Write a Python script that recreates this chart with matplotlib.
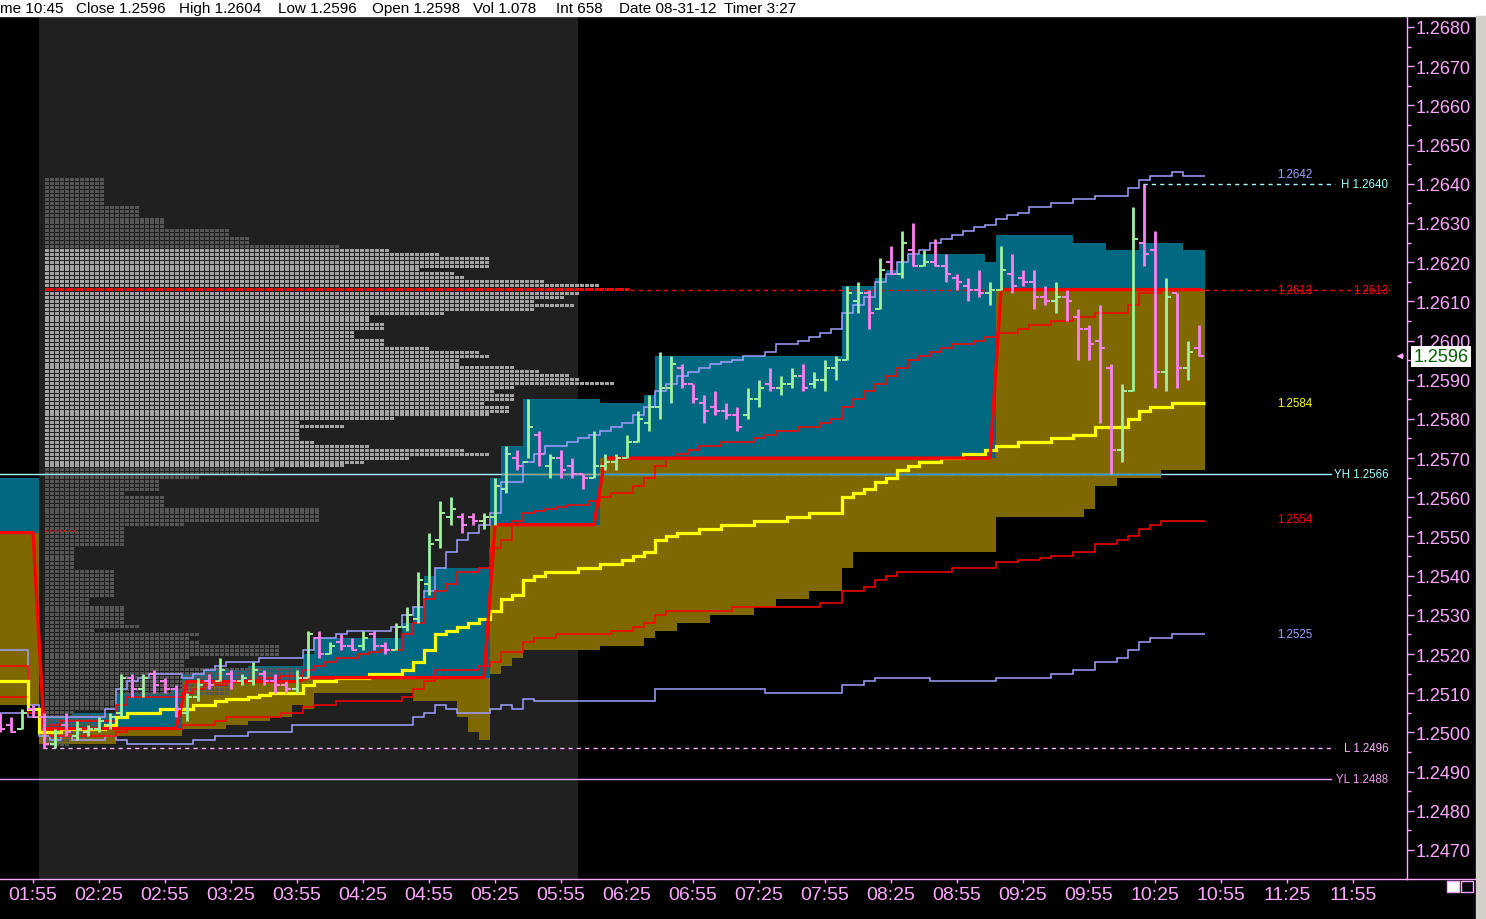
import numpy as np
import matplotlib.pyplot as plt
import matplotlib.transforms as mtransforms
from matplotlib.patches import Rectangle
from matplotlib.lines import Line2D

plt.rcParams['font.family'] = ['Liberation Sans', 'DejaVu Sans']

# ---------------- data ----------------
# 5 minute bars, time = minutes after midnight (01:40 ... 10:45)
bar_time = np.arange(100, 646, 5)

bar_open = [
    1.2504, 1.2502, 1.2501, 1.2506, 1.2504, 1.2497, 1.2502, 1.2499, 1.2500, 1.2501,
    1.2502, 1.2505, 1.2514, 1.2511, 1.2515, 1.2513, 1.2511, 1.2505, 1.2509, 1.2513,
    1.2513, 1.2515, 1.2513, 1.2513, 1.2515, 1.2513, 1.2512, 1.2511, 1.2514, 1.2524,
    1.2520, 1.2523, 1.2522, 1.2522, 1.2525, 1.2522, 1.2521, 1.2527, 1.2529, 1.2538,
    1.2549, 1.2555, 1.2555, 1.2555, 1.2554, 1.2555, 1.2562, 1.2570, 1.2569, 1.2576,
    1.2568, 1.2570, 1.2568, 1.2566, 1.2565, 1.2568, 1.2569, 1.2570, 1.2574, 1.2579,
    1.2583, 1.2588, 1.2593, 1.2589, 1.2584, 1.2583, 1.2582, 1.2581, 1.2581, 1.2585,
    1.2589, 1.2588, 1.2589, 1.2591, 1.2589, 1.2590, 1.2593, 1.2595, 1.2610, 1.2612,
    1.2608, 1.2620, 1.2617, 1.2623, 1.2619, 1.2620, 1.2619, 1.2616, 1.2614, 1.2613,
    1.2612, 1.2613, 1.2617, 1.2616, 1.2615, 1.2611, 1.2610, 1.2611, 1.2606, 1.2603,
    1.2600, 1.2593, 1.2572, 1.2587, 1.2625, 1.2623, 1.2592, 1.2612, 1.2593, 1.2598]
bar_high = [
    1.2505, 1.2504, 1.2506, 1.2507, 1.2505, 1.2501, 1.2505, 1.2503, 1.2502, 1.2504,
    1.2505, 1.2515, 1.2515, 1.2515, 1.2516, 1.2514, 1.2512, 1.2510, 1.2514, 1.2515,
    1.2519, 1.2516, 1.2515, 1.2518, 1.2516, 1.2515, 1.2513, 1.2516, 1.2526, 1.2526,
    1.2523, 1.2525, 1.2524, 1.2526, 1.2526, 1.2523, 1.2528, 1.2532, 1.2541, 1.2551,
    1.2559, 1.2560, 1.2556, 1.2556, 1.2556, 1.2565, 1.2573, 1.2572, 1.2585, 1.2577,
    1.2571, 1.2572, 1.2570, 1.2566, 1.2577, 1.2571, 1.2571, 1.2576, 1.2582, 1.2586,
    1.2597, 1.2596, 1.2594, 1.2589, 1.2586, 1.2587, 1.2584, 1.2583, 1.2588, 1.2590,
    1.2593, 1.2591, 1.2593, 1.2594, 1.2592, 1.2595, 1.2596, 1.2614, 1.2615, 1.2613,
    1.2621, 1.2624, 1.2628, 1.2630, 1.2623, 1.2626, 1.2622, 1.2617, 1.2616, 1.2618,
    1.2615, 1.2624, 1.2622, 1.2618, 1.2618, 1.2614, 1.2615, 1.2613, 1.2608, 1.2604,
    1.2609, 1.2594, 1.2589, 1.2634, 1.2640, 1.2628, 1.2616, 1.2612, 1.2600, 1.2604]
bar_low = [
    1.2500, 1.2500, 1.2501, 1.2504, 1.2496, 1.2496, 1.2499, 1.2498, 1.2499, 1.2500,
    1.2501, 1.2504, 1.2509, 1.2509, 1.2510, 1.2510, 1.2504, 1.2503, 1.2508, 1.2511,
    1.2513, 1.2511, 1.2512, 1.2512, 1.2512, 1.2510, 1.2510, 1.2510, 1.2514, 1.2519,
    1.2520, 1.2521, 1.2521, 1.2521, 1.2521, 1.2520, 1.2521, 1.2526, 1.2528, 1.2535,
    1.2547, 1.2553, 1.2551, 1.2553, 1.2552, 1.2553, 1.2561, 1.2567, 1.2570, 1.2568,
    1.2565, 1.2565, 1.2565, 1.2562, 1.2565, 1.2567, 1.2567, 1.2570, 1.2574, 1.2577,
    1.2580, 1.2584, 1.2588, 1.2584, 1.2579, 1.2581, 1.2580, 1.2577, 1.2580, 1.2583,
    1.2587, 1.2586, 1.2588, 1.2587, 1.2588, 1.2587, 1.2590, 1.2595, 1.2607, 1.2603,
    1.2608, 1.2617, 1.2616, 1.2619, 1.2619, 1.2619, 1.2615, 1.2613, 1.2610, 1.2611,
    1.2609, 1.2613, 1.2612, 1.2614, 1.2608, 1.2609, 1.2607, 1.2605, 1.2595, 1.2595,
    1.2579, 1.2566, 1.2569, 1.2587, 1.2619, 1.2588, 1.2587, 1.2588, 1.2590, 1.2596]
bar_close = [
    1.2501, 1.2500, 1.2505, 1.2504, 1.2497, 1.2500, 1.2500, 1.2501, 1.2501, 1.2503,
    1.2504, 1.2514, 1.2511, 1.2514, 1.2512, 1.2511, 1.2506, 1.2509, 1.2512, 1.2512,
    1.2516, 1.2513, 1.2514, 1.2516, 1.2513, 1.2512, 1.2511, 1.2514, 1.2525, 1.2520,
    1.2522, 1.2522, 1.2521, 1.2524, 1.2522, 1.2521, 1.2527, 1.2530, 1.2539, 1.2548,
    1.2556, 1.2557, 1.2553, 1.2554, 1.2555, 1.2563, 1.2571, 1.2568, 1.2578, 1.2571,
    1.2570, 1.2567, 1.2566, 1.2565, 1.2568, 1.2569, 1.2570, 1.2574, 1.2580, 1.2583,
    1.2588, 1.2594, 1.2589, 1.2585, 1.2582, 1.2582, 1.2581, 1.2578, 1.2585, 1.2588,
    1.2588, 1.2589, 1.2591, 1.2588, 1.2590, 1.2593, 1.2595, 1.2612, 1.2612, 1.2607,
    1.2618, 1.2617, 1.2625, 1.2619, 1.2620, 1.2619, 1.2617, 1.2615, 1.2613, 1.2612,
    1.2613, 1.2618, 1.2614, 1.2615, 1.2611, 1.2610, 1.2611, 1.2610, 1.2603, 1.2599,
    1.2598, 1.2572, 1.2587, 1.2626, 1.2622, 1.2592, 1.2611, 1.2593, 1.2597, 1.2596]

# developing value area (VAH / POC / VAL)
vah = [
    1.2565, 1.2565, 1.2565, 1.2565, 1.2504, 1.2504, 1.2504, 1.2505, 1.2505, 1.2505,
    1.2505, 1.2510, 1.2510, 1.2510, 1.2510, 1.2510, 1.2511, 1.2515, 1.2515, 1.2516,
    1.2516, 1.2516, 1.2516, 1.2517, 1.2517, 1.2517, 1.2517, 1.2517, 1.2520, 1.2524,
    1.2524, 1.2524, 1.2524, 1.2524, 1.2524, 1.2524, 1.2524, 1.2528, 1.2532, 1.2540,
    1.2542, 1.2542, 1.2542, 1.2542, 1.2542, 1.2565, 1.2573, 1.2573, 1.2585, 1.2585,
    1.2585, 1.2585, 1.2585, 1.2585, 1.2585, 1.2584, 1.2584, 1.2584, 1.2584, 1.2586,
    1.2596, 1.2596, 1.2596, 1.2596, 1.2596, 1.2596, 1.2596, 1.2596, 1.2596, 1.2596,
    1.2596, 1.2596, 1.2596, 1.2596, 1.2596, 1.2596, 1.2596, 1.2614, 1.2614, 1.2614,
    1.2616, 1.2618, 1.2620, 1.2622, 1.2622, 1.2622, 1.2622, 1.2622, 1.2622, 1.2622,
    1.2620, 1.2627, 1.2627, 1.2627, 1.2627, 1.2627, 1.2627, 1.2627, 1.2625, 1.2625,
    1.2625, 1.2623, 1.2623, 1.2623, 1.2625, 1.2625, 1.2625, 1.2625, 1.2623, 1.2623]
poc_dev = [
    1.2551, 1.2551, 1.2551, 1.2551, 1.2501, 1.2501, 1.2501, 1.2501, 1.2501, 1.2501,
    1.2501, 1.2501, 1.2501, 1.2501, 1.2501, 1.2501, 1.2501, 1.2513, 1.2513, 1.2513,
    1.2513, 1.2513, 1.2513, 1.2513, 1.2513, 1.2513, 1.2513, 1.2513, 1.2514, 1.2514,
    1.2514, 1.2514, 1.2514, 1.2514, 1.2514, 1.2514, 1.2514, 1.2514, 1.2514, 1.2514,
    1.2514, 1.2514, 1.2514, 1.2514, 1.2514, 1.2553, 1.2553, 1.2553, 1.2553, 1.2553,
    1.2553, 1.2553, 1.2553, 1.2553, 1.2553, 1.2570, 1.2570, 1.2570, 1.2570, 1.2570,
    1.2570, 1.2570, 1.2570, 1.2570, 1.2570, 1.2570, 1.2570, 1.2570, 1.2570, 1.2570,
    1.2570, 1.2570, 1.2570, 1.2570, 1.2570, 1.2570, 1.2570, 1.2570, 1.2570, 1.2570,
    1.2570, 1.2570, 1.2570, 1.2570, 1.2570, 1.2570, 1.2570, 1.2570, 1.2570, 1.2570,
    1.2570, 1.2613, 1.2613, 1.2613, 1.2613, 1.2613, 1.2613, 1.2613, 1.2613, 1.2613,
    1.2613, 1.2613, 1.2613, 1.2613, 1.2613, 1.2613, 1.2613, 1.2613, 1.2613, 1.2613]
val = [
    1.2507, 1.2507, 1.2507, 1.2507, 1.2497, 1.2497, 1.2497, 1.2497, 1.2497, 1.2497,
    1.2497, 1.2499, 1.2499, 1.2499, 1.2499, 1.2499, 1.2499, 1.2501, 1.2501, 1.2501,
    1.2501, 1.2502, 1.2502, 1.2503, 1.2503, 1.2504, 1.2504, 1.2507, 1.2506, 1.2510,
    1.2510, 1.2510, 1.2510, 1.2510, 1.2510, 1.2510, 1.2510, 1.2510, 1.2508, 1.2508,
    1.2508, 1.2508, 1.2504, 1.2500, 1.2498, 1.2515, 1.2517, 1.2519, 1.2521, 1.2521,
    1.2521, 1.2521, 1.2521, 1.2521, 1.2521, 1.2522, 1.2522, 1.2522, 1.2522, 1.2524,
    1.2526, 1.2526, 1.2528, 1.2528, 1.2528, 1.2530, 1.2530, 1.2530, 1.2530, 1.2532,
    1.2532, 1.2534, 1.2534, 1.2534, 1.2536, 1.2536, 1.2536, 1.2542, 1.2546, 1.2546,
    1.2546, 1.2546, 1.2546, 1.2546, 1.2546, 1.2546, 1.2546, 1.2546, 1.2546, 1.2546,
    1.2546, 1.2555, 1.2555, 1.2555, 1.2555, 1.2555, 1.2555, 1.2555, 1.2555, 1.2557,
    1.2563, 1.2563, 1.2565, 1.2565, 1.2565, 1.2565, 1.2567, 1.2567, 1.2567, 1.2567]

# VWAP and deviation bands
vwap = [
    1.2513, 1.2513, 1.2513, 1.2506, 1.2500, 1.2500, 1.2501, 1.2501, 1.2501, 1.2501,
    1.2502, 1.2504, 1.2505, 1.2505, 1.2505, 1.2506, 1.2506, 1.2506, 1.2507, 1.2507,
    1.2508, 1.25085, 1.25085, 1.2509, 1.25095, 1.2510, 1.2510, 1.2510, 1.2512, 1.2513,
    1.2513, 1.2514, 1.2514, 1.2514, 1.2515, 1.2515, 1.2515, 1.2516, 1.2518, 1.2521,
    1.2525, 1.2526, 1.2527, 1.2528, 1.2529, 1.2531, 1.2534, 1.2535, 1.2539, 1.2540,
    1.2541, 1.2541, 1.2541, 1.2542, 1.2542, 1.2543, 1.2543, 1.2544, 1.2545, 1.2546,
    1.2549, 1.2550, 1.2551, 1.2551, 1.2552, 1.2552, 1.2553, 1.2553, 1.2553, 1.2554,
    1.2554, 1.2554, 1.2555, 1.2555, 1.2556, 1.2556, 1.2556, 1.2560, 1.2561, 1.2562,
    1.2564, 1.2565, 1.2567, 1.2568, 1.2569, 1.2569, 1.2570, 1.2570, 1.2571, 1.2571,
    1.2572, 1.2573, 1.2573, 1.2574, 1.2574, 1.2574, 1.2575, 1.2575, 1.2576, 1.2576,
    1.2578, 1.2578, 1.2578, 1.2580, 1.2582, 1.2583, 1.2583, 1.2584, 1.2584, 1.2584]
sd1_up = [
    1.2517, 1.2517, 1.2517, 1.2506, 1.2500, 1.2502, 1.2503, 1.2503, 1.2503, 1.2503,
    1.2503, 1.2507, 1.2509, 1.2509, 1.2509, 1.2509, 1.2509, 1.2510, 1.2511, 1.2512,
    1.2512, 1.2513, 1.2513, 1.25135, 1.2514, 1.2514, 1.25145, 1.25145, 1.2516, 1.2517,
    1.2518, 1.2519, 1.2519, 1.2520, 1.25205, 1.2521, 1.2521, 1.2525, 1.2528, 1.2534,
    1.2536, 1.2538, 1.2541, 1.2541, 1.2542, 1.2547, 1.2549, 1.2554, 1.2556, 1.25565,
    1.2557, 1.25575, 1.2558, 1.2558, 1.2559, 1.2560, 1.2561, 1.2561, 1.2563, 1.2565,
    1.2568, 1.2570, 1.2571, 1.2572, 1.2573, 1.2573, 1.2574, 1.2574, 1.2574, 1.2575,
    1.2576, 1.2577, 1.2577, 1.2578, 1.2578, 1.2579, 1.2580, 1.2583, 1.2585, 1.2587,
    1.2589, 1.2591, 1.2593, 1.2595, 1.2596, 1.2597, 1.2598, 1.2599, 1.2599, 1.2600,
    1.2601, 1.2602, 1.2602, 1.2603, 1.2604, 1.2604, 1.2605, 1.2605, 1.2606, 1.2606,
    1.2607, 1.2607, 1.2607, 1.2609, 1.2612, 1.2612, 1.2613, 1.2613, 1.2613, 1.2613]
sd1_dn = [
    1.2509, 1.2509, 1.2509, 1.2505, 1.2500, 1.2499, 1.2499, 1.2499, 1.2499, 1.2499,
    1.2499, 1.2500, 1.2501, 1.2501, 1.2501, 1.2501, 1.2501, 1.2502, 1.2502, 1.2502,
    1.2503, 1.2504, 1.2504, 1.2504, 1.2504, 1.2504, 1.2505, 1.2505, 1.25065, 1.2507,
    1.2507, 1.2508, 1.2508, 1.2508, 1.2508, 1.2508, 1.2508, 1.2509, 1.2511, 1.2513,
    1.2516, 1.2516, 1.2516, 1.2516, 1.2517, 1.2518, 1.25205, 1.25205, 1.2523, 1.2524,
    1.2524, 1.2525, 1.2525, 1.2525, 1.2525, 1.2525, 1.2526, 1.2526, 1.2527, 1.2528,
    1.2530, 1.2531, 1.2531, 1.2531, 1.2531, 1.2531, 1.2531, 1.2532, 1.2532, 1.2532,
    1.2532, 1.2532, 1.2532, 1.2532, 1.2532, 1.2533, 1.2533, 1.2536, 1.2536, 1.2537,
    1.2539, 1.2540, 1.2541, 1.2541, 1.2541, 1.2541, 1.2541, 1.2542, 1.2542, 1.2542,
    1.2542, 1.25435, 1.25435, 1.2544, 1.2544, 1.25445, 1.2545, 1.2545, 1.2546, 1.2546,
    1.2548, 1.2548, 1.2549, 1.2550, 1.2552, 1.2553, 1.2554, 1.2554, 1.2554, 1.2554]
sd2_up = [
    1.2521, 1.2521, 1.2521, 1.2507, 1.2504, 1.2504, 1.2504, 1.2504, 1.2504, 1.2504,
    1.2506, 1.2511, 1.2513, 1.2514, 1.2515, 1.2515, 1.2515, 1.2514, 1.2515, 1.2516,
    1.2517, 1.2518, 1.2518, 1.2518, 1.2519, 1.2519, 1.2519, 1.2519, 1.2521, 1.2524,
    1.2524, 1.2525, 1.2526, 1.2526, 1.2526, 1.2526, 1.2527, 1.2530, 1.2532, 1.2536,
    1.2542, 1.2546, 1.2549, 1.2551, 1.2553, 1.2556, 1.2564, 1.2564, 1.2569, 1.2571,
    1.2573, 1.2573, 1.2574, 1.2575, 1.2576, 1.2577, 1.2578, 1.2579, 1.2581, 1.2583,
    1.2587, 1.2589, 1.2591, 1.2592, 1.2593, 1.2594, 1.25945, 1.2595, 1.2596, 1.2596,
    1.2597, 1.2599, 1.2599, 1.2600, 1.2601, 1.2602, 1.2603, 1.2607, 1.2609, 1.2611,
    1.2615, 1.2617, 1.2620, 1.2622, 1.2623, 1.2625, 1.2626, 1.2627, 1.2628, 1.2629,
    1.26295, 1.2631, 1.2632, 1.26325, 1.2634, 1.2634, 1.2635, 1.2635, 1.2636, 1.2636,
    1.2637, 1.2637, 1.2637, 1.2639, 1.2641, 1.2642, 1.2642, 1.2643, 1.2642, 1.2642]
sd2_dn = [
    1.2505, 1.2505, 1.2505, 1.2504, 1.2499, 1.2498, 1.2499, 1.2498, 1.2498, 1.2498,
    1.2499, 1.2498, 1.2497, 1.2497, 1.2497, 1.2497, 1.2497, 1.2497, 1.2498, 1.2498,
    1.2499, 1.2499, 1.2499, 1.2500, 1.2500, 1.2500, 1.2500, 1.2502, 1.2502, 1.2502,
    1.2502, 1.2502, 1.2502, 1.2502, 1.2502, 1.2502, 1.2502, 1.2502, 1.2504, 1.2505,
    1.2507, 1.2506, 1.2505, 1.2505, 1.2505, 1.2506, 1.2507, 1.2506, 1.25085, 1.2508,
    1.2508, 1.2508, 1.2508, 1.2508, 1.2508, 1.2508, 1.2508, 1.2508, 1.2508, 1.2508,
    1.2511, 1.2511, 1.2511, 1.2511, 1.2511, 1.2511, 1.2511, 1.2511, 1.2511, 1.2511,
    1.2510, 1.2510, 1.2510, 1.2510, 1.2510, 1.2510, 1.2510, 1.2512, 1.2512, 1.2513,
    1.2514, 1.2514, 1.2514, 1.2514, 1.2514, 1.2513, 1.2513, 1.2513, 1.2513, 1.2513,
    1.2513, 1.2514, 1.2514, 1.2514, 1.2514, 1.2514, 1.2515, 1.2515, 1.2516, 1.2516,
    1.2518, 1.2518, 1.2519, 1.2521, 1.2523, 1.2524, 1.2524, 1.2525, 1.2525, 1.2525]

# market profile: cells per price level, from 1.2641 downwards
prof_top = 1.2641
prof_counts = [
    12, 12, 12, 12, 12, 12, 12, 19, 19, 19,
    24, 24, 24, 37, 37, 41, 41, 59, 69, 79,
    89, 89, 89, 75, 82, 84, 100, 111, 117, 107,
    104, 98, 106, 98, 80, 65, 65, 68, 68, 62,
    62, 68, 68, 77, 87, 89, 83, 83, 94, 99,
    105, 107, 114, 94, 90, 94, 94, 88, 93, 93,
    89, 70, 51, 60, 51, 51, 51, 54, 65, 84,
    89, 73, 64, 60, 46, 43, 31, 23, 23, 23,
    16, 24, 24, 24, 55, 55, 55, 55, 28, 16,
    16, 16, 16, 16, 6, 6, 6, 6, 6, 6,
    14, 14, 14, 14, 14, 14, 14, 9, 9, 16,
    16, 16, 16, 16, 19, 10, 31, 29, 31, 47,
    47, 47, 29, 28, 28, 51, 51, 51, 51, 37,
    37, 37, 14, 14, 14, 14, 6, 13, 13, 11,
    11, 9, 9, 5, 5]
prof_poc = 1.2613
prof_va_high = 1.2623
prof_va_low = 1.2568
prev_poc = 1.2551

# reference levels
day_high = 1.2640
day_low = 1.2496
yest_high = 1.2566
yest_low = 1.2488
last_price = 1.2596

# ---------------- style / layout ----------------
W, H = 1486, 920
PINK = '#ffa8ff'
PX_MIN = 2.2                      # chart pixels per minute
TEAL, OLIVE = '#006880', '#806800'

fig = plt.figure(figsize=(W / 100, H / 100), dpi=100, facecolor='black')
ax = fig.add_axes([0, 40 / H, 1407 / W, 862 / H])
ax.set_facecolor('black')
ax.set_xlim(100, 739.5)
ax.set_ylim(1.24626, 1.268255)

# session shading
ax.axvspan(117.5, 362.5, color='#202020', lw=0, zorder=0.5)

edges = np.append(bar_time - 2.5, bar_time[-1] + 2.5)
vah_a, poc_a, val_a = np.array(vah), np.array(poc_dev), np.array(val)
ax.stairs(vah_a, edges, baseline=poc_a, fill=True, color=TEAL, lw=0, zorder=1)
ax.stairs(poc_a, edges, baseline=val_a, fill=True, color=OLIVE, lw=0, zorder=1)

# market profile cells
pitch = 5 / PX_MIN
cell_w = 4 / PX_MIN
cell_h = 0.0001 * 3 / 3.92
x0 = 120.5
for i, n in enumerate(prof_counts):
    lvl = round(prof_top - i * 0.0001, 4)
    if abs(lvl - prof_poc) < 1e-7:
        c = '#ff0000'
    elif prof_va_low - 1e-7 <= lvl <= prof_va_high + 1e-7:
        c = '#a4a4a4'
    else:
        c = '#565656'
    xr = [(x0 + j * pitch, cell_w) for j in range(n)]
    ax.broken_barh(xr, (lvl - cell_h / 2, cell_h), facecolors=c,
                   edgecolor='none', antialiased=False, zorder=2)

ax.plot([x0, x0 + 15], [prev_poc + 0.00005] * 2, color='red', lw=1.3, ls=':', zorder=2.5)

# reference lines
end_t = 705.0
ax.plot([100, end_t], [yest_high] * 2, color='#a0ffff', lw=1, zorder=3)
ax.plot([100, end_t], [yest_low] * 2, color='#f0a0f0', lw=1, zorder=3)
ax.plot([119.5, end_t + 2], [day_low] * 2, color='#ffb0ff', lw=1, ls=(0, (3, 3)), zorder=3)
ax.plot([619.5, end_t + 2], [day_high] * 2, color='#a0ffff', lw=1, ls=(0, (3, 3)), zorder=3)
ax.plot([386.5, 731.8], [prof_poc] * 2, color='#ff0000', lw=1, ls=(0, (3, 3)), zorder=3)
in_teal = (poc_a < yest_high) & (vah_a > yest_high)
in_olive = (val_a < yest_high) & (poc_a > yest_high)
ax.hlines([yest_high] * in_teal.sum(), edges[:-1][in_teal], edges[1:][in_teal],
          color='#a0977f', lw=1, zorder=3.1)
ax.hlines([yest_high] * in_olive.sum(), edges[:-1][in_olive], edges[1:][in_olive],
          color='#2097ff', lw=1, zorder=3.1)

# bands
ax.stairs(sd2_up, edges, baseline=None, color='#a0a0ff', lw=1.1, zorder=4)
ax.stairs(sd2_dn, edges, baseline=None, color='#a0a0ff', lw=1.1, zorder=4)
ax.stairs(sd1_up, edges, baseline=None, color='#ff0000', lw=1.1, zorder=4)
ax.stairs(sd1_dn, edges, baseline=None, color='#ff0000', lw=1.1, zorder=4)
ax.stairs(vwap, edges, baseline=None, color='#ffff00', lw=2.3, zorder=4.2)
ax.plot(bar_time, poc_dev, color='#ff0000', lw=2.4, zorder=4.4)

# OHLC bars
o, c = np.array(bar_open), np.array(bar_close)
cols = np.where(c >= o, '#a0f0a0', '#ff80f0')
tick = 5 / PX_MIN
ax.vlines(bar_time, bar_low, bar_high, colors=cols, lw=2.0, zorder=6)
ax.hlines(o, bar_time - tick, bar_time, colors=cols, lw=1.4, zorder=6)
ax.hlines(c, bar_time, bar_time + tick, colors=cols, lw=1.4, zorder=6)

# right-hand level labels
lx, rx = 680.5, 731.0
small = 8.3
ax.text(lx, 1.26425, '1.2642', color='#a0a0ff', fontsize=small, va='center')
ax.text(rx, day_high, 'H 1.2640', color='#a0ffff', fontsize=small, va='center', ha='right')
ax.text(lx, prof_poc, '1.2613', color='#ff0000', fontsize=small, va='center')
ax.text(rx, prof_poc, '1.2613', color='#ff0000', fontsize=small, va='center', ha='right')
ax.text(lx, vwap[-1], '1.2584', color='#ffff00', fontsize=small, va='center')
ax.text(rx, yest_high, 'YH 1.2566', color='#a0ffff', fontsize=small, va='center', ha='right')
ax.text(lx, 1.25545, '1.2554', color='#ff0000', fontsize=small, va='center')
ax.text(lx, 1.2525, '1.2525', color='#a0a0ff', fontsize=small, va='center')
ax.text(rx, day_low, 'L 1.2496', color='#ffb0ff', fontsize=small, va='center', ha='right')
ax.text(rx, yest_low, 'YL 1.2488', color='#f0a0f0', fontsize=small, va='center', ha='right')

# axes
for s in ('left', 'top'):
    ax.spines[s].set_visible(False)
for s in ('right', 'bottom'):
    ax.spines[s].set_color(PINK)
    ax.spines[s].set_linewidth(1)
ax.yaxis.tick_right()
ax.set_yticks(np.arange(1.2470, 1.26801, 0.001))
ax.set_yticks(np.arange(1.2475, 1.2680, 0.001), minor=True)
ax.yaxis.set_major_formatter(plt.FuncFormatter(lambda v, p: '%.4f' % v))
ax.tick_params(axis='y', which='major', direction='out', length=5, width=1,
               colors=PINK, labelsize=13, pad=1)
ax.tick_params(axis='y', which='minor', direction='out', length=3, width=1, colors=PINK)
xt = np.arange(115, 716, 30)
ax.set_xticks(xt)
ax.set_xticklabels(['%02d:%02d' % (m // 60, m % 60) for m in xt])
ax.tick_params(axis='x', direction='out', length=3, width=1, colors=PINK, labelsize=14, pad=2)

# last price box and arrow
tr = mtransforms.blended_transform_factory(ax.transAxes, ax.transData)
ax.text(1.0045, last_price, '1.2596', transform=tr, color='#006000', fontsize=13,
        va='center', ha='left', clip_on=False, zorder=10,
        bbox=dict(boxstyle='square,pad=0.12', fc='white', ec='none'))
ax.annotate('', xy=(733.5, last_price), xytext=(739, last_price),
            arrowprops=dict(arrowstyle='-|>', color=PINK, lw=1, mutation_scale=8))

# frame decorations
fig.patches.append(Rectangle((0, 1 - 17 / H), 1, 17 / H, transform=fig.transFigure,
                             color='white', zorder=5))
header = [(0, 'me 10:45'), (76, 'Close 1.2596'), (179, 'High 1.2604'),
          (278, 'Low 1.2596'), (372, 'Open 1.2598'), (473, 'Vol 1.078'),
          (556, 'Int 658'), (619, 'Date 08-31-12'), (724, 'Timer 3:27')]
for hx, s in header:
    fig.text(hx / W, 1 - 9 / H, s, color='black', fontsize=11, va='center', zorder=6)

fig.add_artist(Line2D([1407 / W, 1475 / W], [40 / H, 40 / H], color=PINK, lw=1))
fig.patches.append(Rectangle((1476 / W, 0), 10 / W, 1 - 17 / H, transform=fig.transFigure,
                             color='#d4d0c8', zorder=5))
fig.add_artist(Line2D([1476.5 / W] * 2, [0, 1 - 17 / H], color='white', lw=1))
fig.patches.append(Rectangle((1447 / W, 27 / H), 12 / W, 11 / H, transform=fig.transFigure,
                             fc='white', ec=PINK, lw=1, zorder=5))
fig.patches.append(Rectangle((1461 / W, 27 / H), 12 / W, 11 / H, transform=fig.transFigure,
                             fc='black', ec=PINK, lw=1, zorder=5))

fig.savefig('out.png', dpi=100, facecolor='black')
